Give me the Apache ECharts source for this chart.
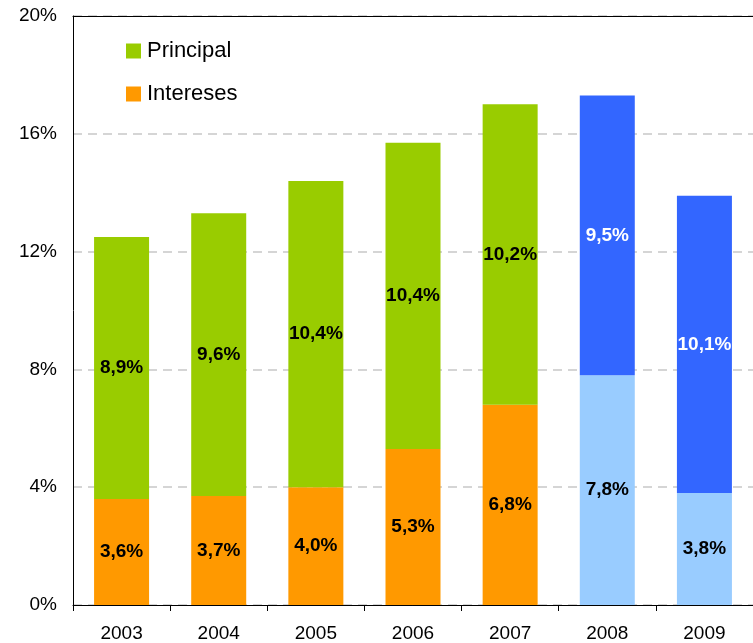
<!DOCTYPE html>
<html>
<head>
<meta charset="utf-8">
<script src="https://cdn.jsdelivr.net/npm/echarts@6/dist/echarts.min.js"></script>
<style>html,body{margin:0;padding:0;background:#fff}#c{width:753px;height:643px}</style>
</head>
<body>
<div id="c"></div>
<script>
var years = ['2003','2004','2005','2006','2007','2008','2009'];
var intereses = [3.6, 3.7, 4.0, 5.3, 6.8, 7.8, 3.8];
var principal = [8.9, 9.6, 10.4, 10.4, 10.2, 9.5, 10.1];
var forecastYears = ['2008','2009'];
var yTicks = [0, 4, 8, 12, 16, 20];

var GREEN = '#99CC00', ORANGE = '#FF9900', LIGHTBLUE = '#99CCFF', DARKBLUE = '#3366FF';
var FONT = 'Liberation Sans, Arial, sans-serif';

function fmt(v){ return v.toFixed(1).replace('.', ',') + '%'; }

function items(vals, baseColor, fcColor, fcLabel){
  return vals.map(function(v, i){
    var fc = forecastYears.indexOf(years[i]) >= 0;
    return {
      value: v,
      itemStyle: {color: fc ? fcColor : baseColor},
      label: {color: fc ? fcLabel : '#000'}
    };
  });
}

var chart = echarts.init(document.getElementById('c'));
chart.setOption({
  animation: false,
  grid: {left: 73, right: -6, top: 16, bottom: 37, containLabel: false},
  legend: {
    orient: 'vertical', left: 121, top: 35,
    itemWidth: 15, itemHeight: 15, itemGap: 21,
    icon: 'rect',
    data: ['Principal', 'Intereses'],
    textStyle: {fontFamily: FONT, fontSize: 22, color: '#000', padding: [0,0,0,1]}
  },
  xAxis: [{
    type: 'category', data: years,
    axisLine: {lineStyle: {color: '#000', width: 1}},
    axisTick: {show: true, length: 6, lineStyle: {color: '#000'}},
    axisLabel: {fontFamily: FONT, fontSize: 19, color: '#000', margin: 19}
  }, {
    type: 'category', data: years, position: 'top',
    axisLine: {show: true, lineStyle: {color: '#000', width: 1}},
    axisTick: {show: false}, axisLabel: {show: false}
  }],
  yAxis: {
    type: 'value', min: yTicks[0], max: yTicks[yTicks.length - 1], interval: 4,
    axisLine: {show: true, lineStyle: {color: '#000'}},
    axisTick: {show: false},
    axisLabel: {fontFamily: FONT, fontSize: 19, color: '#000', margin: 16,
      formatter: function(v){ return v + '%'; }},
    splitLine: {show: true, lineStyle: {color: '#C8C8C8', type: [9, 6], width: 1.5}}
  },
  series: [{
    name: 'Intereses', type: 'bar', stack: 't', barWidth: 55,
    itemStyle: {color: ORANGE},
    label: {show: true, position: 'inside', fontFamily: FONT, fontSize: 19, fontWeight: 'bold',
      formatter: function(p){ return fmt(p.value); }},
    data: items(intereses, ORANGE, LIGHTBLUE, '#000')
  }, {
    name: 'Principal', type: 'bar', stack: 't', barWidth: 55,
    itemStyle: {color: GREEN},
    label: {show: true, position: 'inside', fontFamily: FONT, fontSize: 19, fontWeight: 'bold',
      formatter: function(p){ return fmt(p.value); }},
    data: items(principal, GREEN, DARKBLUE, '#fff')
  }]
});
</script>
</body>
</html>
